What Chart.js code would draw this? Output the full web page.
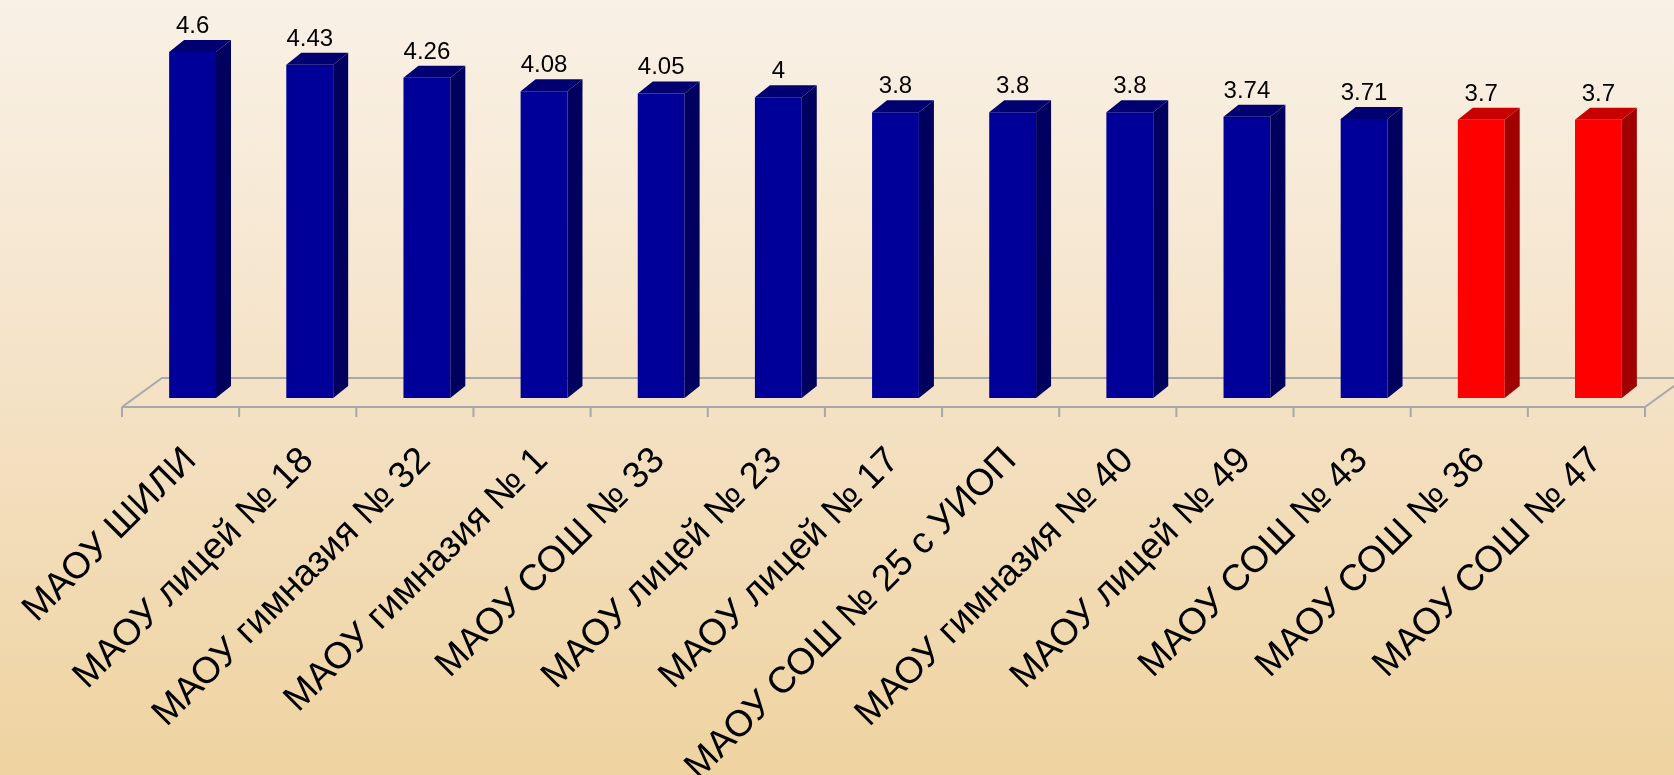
<!DOCTYPE html>
<html>
<head>
<meta charset="utf-8">
<script src="https://cdn.jsdelivr.net/npm/chart.js@4"></script>
<style>
  html, body { margin: 0; padding: 0; }
  body {
    width: 1674px; height: 775px; overflow: hidden;
    background: linear-gradient(to bottom, #f9f1e6 0%, #f4e2c6 50%, #efd3a0 100%);
  }
</style>
</head>
<body>
<canvas id="graph" width="1674" height="775"></canvas>
<script>
const schools = [
    'МАОУ ШИЛИ', 'МАОУ лицей № 18', 'МАОУ гимназия № 32', 'МАОУ гимназия № 1',
    'МАОУ СОШ № 33', 'МАОУ лицей № 23', 'МАОУ лицей № 17', 'МАОУ СОШ № 25 с УИОП',
    'МАОУ гимназия № 40', 'МАОУ лицей № 49', 'МАОУ СОШ № 43', 'МАОУ СОШ № 36', 'МАОУ СОШ № 47'
];
const scores = [4.6, 4.43, 4.26, 4.08, 4.05, 4, 3.8, 3.8, 3.8, 3.74, 3.71, 3.7, 3.7];
const redFrom = 11;

const blue = { front: '#000099', top: '#000070', side: '#00005e' };
const red = { front: '#ff0000', top: '#c80000', side: '#a00000' };
const pal = i => (i >= redFrom ? red : blue);

const canvas = document.querySelector('#graph');
const ctx = canvas.getContext('2d');

// depth of the 3d look
const bdx = 15, bdy = 12;       // bar depth
const fdx = 40, fdy = 29;       // floor depth
const fFront = 9;               // floor front edge below bar base

const floorPlugin = {
    id: 'floor',
    beforeDatasetsDraw(chart){
        const x = chart.scales.x, y = chart.scales.y;
        const c = chart.ctx;
        const base = y.getPixelForValue(0);
        const l = x.left - 12, r = x.right - 12;
        const fy = base + fFront;
        c.save();
        c.strokeStyle = '#a8a8a8';
        c.lineWidth = 2;
        c.beginPath();
        c.moveTo(l, fy);
        c.lineTo(r, fy);
        c.lineTo(r + fdx, fy - fdy);
        c.moveTo(l, fy);
        c.lineTo(l + fdx, fy - fdy);
        c.lineTo(r + fdx, fy - fdy);
        const cw = (r - l) / schools.length;
        for (let i = 0; i <= schools.length; i++){
            c.moveTo(l + i * cw, fy);
            c.lineTo(l + i * cw, fy + 10);
        }
        c.stroke();
        c.restore();
    }
};

const box3dPlugin = {
    id: 'box3d',
    afterDatasetsDraw(chart){
        const c = chart.ctx;
        const meta = chart.getDatasetMeta(0);
        meta.data.forEach((bar, i) => {
            const p = bar.getProps(['x', 'y', 'base', 'width'], true);
            const l = p.x - p.width / 2, r = p.x + p.width / 2;
            const col = pal(i);
            c.save();
            // top
            c.fillStyle = col.top;
            c.beginPath();
            c.moveTo(l, p.y);
            c.lineTo(r, p.y);
            c.lineTo(r + bdx, p.y - bdy);
            c.lineTo(l + bdx, p.y - bdy);
            c.closePath();
            c.fill();
            // side
            c.fillStyle = col.side;
            c.beginPath();
            c.moveTo(r, p.y);
            c.lineTo(r + bdx, p.y - bdy);
            c.lineTo(r + bdx, p.base - bdy);
            c.lineTo(r, p.base);
            c.closePath();
            c.fill();
            // value
            c.fillStyle = '#000';
            c.font = '24px "Liberation Sans", Arial, sans-serif';
            c.textAlign = 'center';
            c.textBaseline = 'alphabetic';
            c.fillText(String(scores[i]), p.x, p.y - 19);
            c.restore();
        });
    }
};

const chart = new Chart(ctx, {
    type: 'bar',
    data: {
        labels: schools,
        datasets: [{
            data: scores,
            backgroundColor: scores.map((v, i) => pal(i).front),
            borderWidth: 0,
            barPercentage: 0.4,
            categoryPercentage: 1
        }]
    },
    options: {
        responsive: false,
        animation: false,
        events: [],
        devicePixelRatio: 1,
        layout: { padding: { left: 134, right: 17, top: 22, bottom: 0 } },
        plugins: { legend: { display: false }, tooltip: { enabled: false } },
        scales: {
            x: {
                offset: true,
                grid: { display: false, drawTicks: false },
                border: { display: false },
                ticks: {
                    autoSkip: false,
                    minRotation: 45,
                    maxRotation: 45,
                    padding: 41,
                    labelOffset: -2,
                    color: '#000',
                    font: { family: '"Liberation Sans", Arial, sans-serif', size: 37 }
                },
                afterFit(scale){
                    scale.height = 377;
                    scale.paddingLeft = 0;
                    scale.paddingRight = 0;
                }
            },
            y: { display: false, min: 0, max: 5 }
        }
    },
    plugins: [floorPlugin, box3dPlugin]
});
</script>
</body>
</html>
